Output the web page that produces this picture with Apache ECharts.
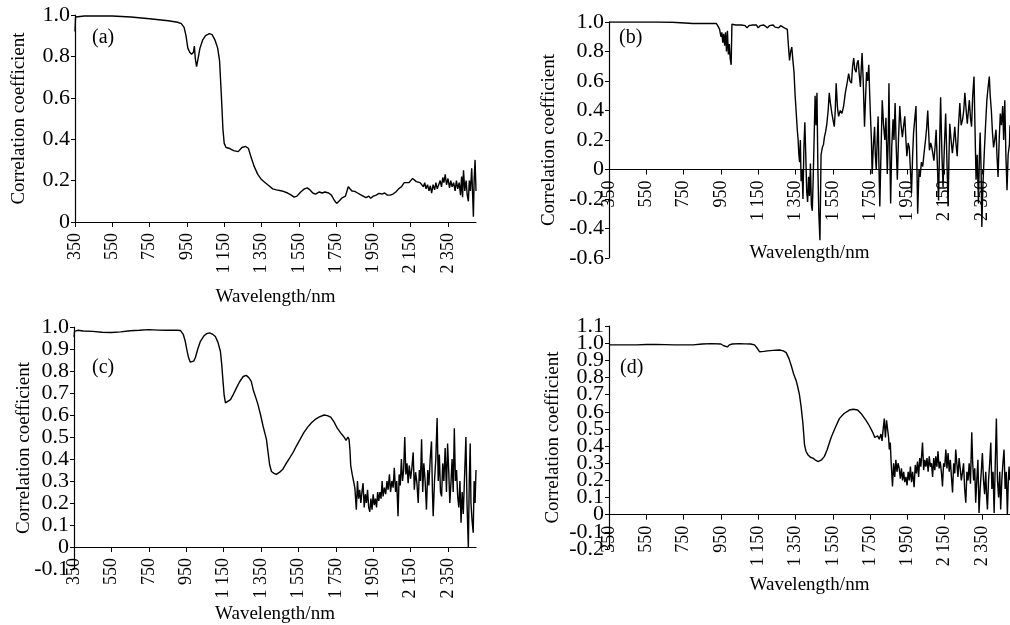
<!DOCTYPE html>
<html>
<head>
<meta charset="utf-8">
<script src="https://cdn.jsdelivr.net/npm/echarts@6/dist/echarts.min.js"></script>
<style>
html,body{margin:0;padding:0;background:#fff;}
#chart{width:1010px;height:625px;}
</style>
</head>
<body>
<div id="chart"></div>
<script>
// ---- Data (wavelength in nm, correlation coefficient) ----
const xTickValues = [350,550,750,950,1150,1350,1550,1750,1950,2150,2350];
const panelLabels = ['(a)','(b)','(c)','(d)'];
const xName = 'Wavelength/nm';
const yName = 'Correlation coefficient';

const wlA = [350,353,360,400,450,550,650,750,850,900,920,935,945,955,965,975,985,990,995,1002,1010,1020,1035,1050,1070,1085,1100,1115,1125,1132,1138,1143,1150,1160,1180,1200,1225,1245,1265,1280,1295,1310,1330,1350,1370,1390,1410,1430,1460,1490,1510,1525,1540,1560,1580,1595,1610,1625,1640,1660,1675,1690,1710,1725,1740,1753,1765,1780,1800,1815,1825,1835,1850,1865,1880,1895,1910,1925,1935,1950,1965,1980,1995,2010,2025,2040,2055,2070,2085,2100,2115,2125,2140,2150,2160,2170,2180,2190,2200,2210,2218,2225,2232,2240,2248,2255,2262,2270,2278,2285,2292,2300,2308,2315,2322,2328,2335,2342,2350,2358,2365,2372,2380,2388,2395,2402,2410,2417,2423,2428,2433,2440,2447,2453,2459,2464,2470,2477,2482,2486,2490,2495,2500];
const corrA = [0.92,0.99,0.995,0.995,0.996,0.995,0.99,0.982,0.972,0.965,0.958,0.94,0.9,0.84,0.82,0.81,0.82,0.85,0.79,0.75,0.79,0.84,0.88,0.9,0.91,0.905,0.88,0.84,0.78,0.66,0.55,0.45,0.38,0.36,0.355,0.345,0.34,0.36,0.365,0.355,0.31,0.27,0.23,0.205,0.19,0.175,0.16,0.155,0.15,0.14,0.13,0.12,0.125,0.145,0.16,0.165,0.155,0.14,0.135,0.145,0.14,0.145,0.14,0.13,0.105,0.09,0.1,0.115,0.125,0.17,0.172,0.15,0.148,0.14,0.132,0.125,0.118,0.125,0.115,0.125,0.13,0.138,0.135,0.14,0.13,0.13,0.135,0.145,0.16,0.17,0.19,0.195,0.19,0.2,0.21,0.205,0.195,0.2,0.19,0.185,0.17,0.19,0.16,0.18,0.15,0.175,0.14,0.18,0.155,0.19,0.16,0.18,0.2,0.17,0.215,0.19,0.23,0.18,0.21,0.165,0.2,0.17,0.19,0.15,0.2,0.16,0.19,0.13,0.22,0.12,0.25,0.15,0.2,0.13,0.1,0.2,0.15,0.26,0.13,0.025,0.2,0.3,0.15];

const wlB = [350,400,500,600,690,700,800,900,925,935,943,950,955,960,965,970,975,980,985,990,995,1000,1005,1009,1030,1060,1080,1090,1100,1110,1120,1130,1140,1150,1160,1170,1180,1190,1200,1210,1220,1230,1240,1250,1260,1270,1280,1290,1300,1306,1312,1318,1324,1330,1336,1342,1348,1354,1360,1364,1368,1372,1376,1380,1385,1390,1395,1400,1405,1410,1415,1420,1425,1430,1435,1440,1445,1450,1455,1460,1465,1470,1475,1481,1487,1494,1500,1505,1512,1518,1525,1531,1537,1545,1552,1558,1563,1568,1575,1581,1590,1599,1608,1617,1626,1635,1642,1650,1656,1662,1668,1675,1680,1686,1692,1698,1703,1707,1713,1720,1726,1731,1737,1743,1748,1752,1757,1761,1767,1774,1778,1783,1788,1793,1797,1802,1808,1815,1822,1829,1835,1842,1847,1851,1856,1860,1866,1873,1878,1884,1890,1896,1902,1909,1916,1923,1930,1936,1942,1947,1954,1960,1966,1972,1978,1983,1990,1996,2000,2005,2012,2018,2025,2032,2040,2047,2053,2059,2064,2068,2075,2081,2087,2092,2098,2104,2110,2117,2123,2128,2135,2141,2148,2155,2161,2168,2173,2177,2184,2191,2198,2204,2210,2217,2224,2231,2238,2246,2252,2258,2265,2271,2277,2282,2288,2294,2300,2307,2312,2318,2324,2331,2336,2340,2345,2349,2355,2362,2369,2376,2382,2389,2394,2400,2406,2412,2418,2425,2430,2436,2442,2448,2454,2461,2466,2472,2478,2484,2490,2497,2500];
const corrB = [1.0,1.0,1.0,1.0,0.998,0.995,0.99,0.99,0.99,0.97,0.95,0.9,0.93,0.86,0.92,0.84,0.93,0.8,0.94,0.78,0.85,0.75,0.71,0.985,0.98,0.98,0.975,0.96,0.975,0.965,0.98,0.97,0.98,0.96,0.975,0.965,0.98,0.97,0.96,0.975,0.97,0.98,0.965,0.97,0.96,0.975,0.97,0.96,0.96,0.95,0.84,0.74,0.8,0.83,0.74,0.66,0.5,0.38,0.26,0.2,0.1,0.05,0.2,-0.08,0.0,-0.2,0.15,0.32,0.1,-0.15,-0.22,-0.05,-0.18,0.04,-0.24,-0.28,-0.05,0.22,0.5,0.3,0.52,0.0,-0.3,-0.48,0.1,0.15,0.17,0.22,0.26,0.31,0.4,0.52,0.45,0.38,0.33,0.29,0.4,0.585,0.42,0.36,0.4,0.38,0.43,0.52,0.58,0.65,0.6,0.585,0.7,0.755,0.68,0.66,0.72,0.74,0.64,0.56,0.7,0.79,0.6,0.29,0.5,0.66,0.6,0.71,0.5,0.36,0.2,-0.03,0.15,0.29,0.1,0.0,0.2,0.36,0.05,-0.25,0.1,0.47,0.3,0.2,0.35,-0.03,0.2,0.585,0.1,-0.23,0.15,0.34,0.2,0.45,0.15,-0.07,0.2,0.43,0.3,0.22,0.3,0.36,0.2,0.09,0.18,0.15,0.0,-0.16,0.1,0.25,0.35,0.43,0.1,-0.3,0.0,-0.05,0.05,0.02,0.12,0.2,0.28,0.4,0.25,0.13,0.18,0.15,0.1,0.06,0.15,0.27,0.05,-0.21,0.2,0.49,0.1,-0.12,0.15,0.38,0.1,-0.25,0.1,0.31,0.2,0.11,0.2,0.29,0.18,0.09,0.3,0.45,0.3,0.34,0.4,0.52,0.4,0.31,0.4,0.47,0.35,0.29,0.5,0.63,0.3,-0.07,0.1,-0.23,0.1,0.25,0.0,-0.39,-0.1,0.11,0.3,0.47,0.55,0.63,0.5,0.4,0.25,0.15,0.2,0.27,0.1,-0.05,0.2,0.38,0.3,0.43,0.2,0.47,0.1,-0.14,0.1,0.17,0.3];

const wlC = [350,353,370,400,450,500,550,600,650,700,750,800,850,900,920,935,945,955,963,972,981,990,999,1012,1026,1045,1060,1075,1090,1106,1120,1133,1140,1147,1153,1160,1170,1187,1200,1217,1235,1255,1271,1285,1298,1310,1322,1334,1348,1361,1370,1379,1388,1396,1406,1420,1432,1450,1468,1485,1500,1522,1540,1560,1579,1600,1620,1640,1660,1687,1705,1723,1740,1758,1775,1794,1805,1815,1821,1826,1830,1838,1845,1852,1860,1866,1872,1878,1884,1890,1896,1902,1908,1914,1920,1926,1932,1938,1944,1950,1956,1962,1968,1974,1980,1986,1992,1998,2003,2010,2017,2024,2030,2037,2043,2050,2057,2063,2070,2076,2083,2089,2095,2101,2107,2113,2119,2125,2131,2137,2143,2150,2157,2164,2170,2177,2184,2191,2197,2203,2209,2215,2221,2228,2235,2242,2248,2255,2262,2267,2271,2278,2285,2292,2298,2304,2310,2316,2322,2328,2335,2342,2348,2354,2360,2366,2372,2378,2384,2390,2396,2402,2408,2414,2420,2426,2432,2438,2446,2452,2456,2459,2464,2469,2473,2479,2485,2490,2495,2500];
const corrC = [0.955,0.98,0.985,0.982,0.98,0.976,0.975,0.978,0.983,0.985,0.988,0.986,0.985,0.985,0.984,0.965,0.935,0.89,0.86,0.84,0.835,0.845,0.86,0.9,0.935,0.96,0.97,0.973,0.968,0.957,0.93,0.89,0.83,0.753,0.69,0.655,0.66,0.67,0.69,0.72,0.75,0.775,0.78,0.77,0.753,0.71,0.68,0.647,0.6,0.55,0.52,0.49,0.43,0.375,0.343,0.335,0.33,0.34,0.355,0.38,0.4,0.43,0.46,0.49,0.52,0.545,0.565,0.58,0.59,0.6,0.597,0.59,0.57,0.54,0.52,0.5,0.485,0.5,0.49,0.44,0.37,0.33,0.3,0.27,0.17,0.3,0.22,0.26,0.2,0.25,0.29,0.18,0.24,0.2,0.26,0.18,0.16,0.22,0.17,0.24,0.19,0.22,0.18,0.25,0.21,0.25,0.22,0.3,0.23,0.27,0.24,0.3,0.26,0.33,0.25,0.3,0.27,0.36,0.25,0.3,0.14,0.33,0.28,0.4,0.3,0.35,0.5,0.33,0.38,0.29,0.37,0.31,0.36,0.43,0.26,0.34,0.29,0.2,0.35,0.3,0.49,0.25,0.38,0.3,0.17,0.35,0.28,0.4,0.48,0.25,0.14,0.3,0.4,0.586,0.3,0.42,0.25,0.23,0.38,0.3,0.45,0.25,0.47,0.35,0.2,0.29,0.4,0.25,0.54,0.3,0.35,0.23,0.18,0.3,0.11,0.25,0.15,0.3,0.5,0.2,0.08,0.0,0.3,0.47,0.2,0.12,0.065,0.3,0.2,0.35];

const wlD = [350,400,500,550,600,700,800,850,900,950,965,975,985,995,1011,1050,1080,1110,1130,1145,1157,1180,1200,1230,1264,1285,1300,1315,1327,1340,1354,1363,1371,1380,1389,1394,1398,1406,1416,1430,1443,1455,1470,1480,1490,1505,1520,1541,1560,1585,1610,1639,1660,1683,1705,1728,1745,1764,1775,1790,1799,1808,1814,1820,1826,1832,1838,1844,1849,1853,1858,1863,1870,1876,1882,1888,1894,1900,1906,1912,1918,1924,1930,1936,1942,1948,1954,1960,1966,1972,1978,1986,1992,1998,2004,2010,2016,2022,2031,2037,2043,2049,2055,2061,2067,2073,2079,2085,2091,2097,2102,2108,2114,2120,2126,2132,2138,2144,2150,2156,2162,2168,2174,2180,2186,2192,2198,2204,2209,2215,2221,2227,2233,2239,2245,2251,2257,2263,2269,2275,2281,2288,2295,2300,2305,2311,2316,2322,2328,2334,2340,2346,2352,2358,2364,2370,2375,2379,2385,2391,2397,2403,2409,2415,2421,2427,2433,2439,2445,2450,2456,2462,2468,2474,2480,2486,2491,2495,2500];
const corrD = [0.99,0.99,0.99,0.992,0.993,0.99,0.99,0.995,0.997,0.995,0.985,0.975,0.978,0.99,0.995,0.997,0.996,0.995,0.99,0.97,0.95,0.952,0.955,0.958,0.96,0.955,0.945,0.91,0.87,0.82,0.78,0.74,0.7,0.63,0.54,0.47,0.41,0.37,0.35,0.335,0.33,0.32,0.31,0.305,0.32,0.34,0.38,0.45,0.5,0.56,0.59,0.61,0.615,0.61,0.585,0.55,0.52,0.48,0.45,0.46,0.44,0.47,0.43,0.5,0.56,0.45,0.55,0.54,0.45,0.38,0.42,0.3,0.165,0.3,0.22,0.32,0.25,0.3,0.27,0.21,0.27,0.2,0.25,0.19,0.22,0.17,0.25,0.2,0.28,0.19,0.25,0.16,0.29,0.24,0.31,0.22,0.33,0.28,0.42,0.26,0.32,0.28,0.33,0.25,0.34,0.28,0.3,0.22,0.33,0.26,0.34,0.28,0.37,0.27,0.31,0.25,0.165,0.3,0.28,0.38,0.27,0.36,0.25,0.32,0.22,0.13,0.3,0.24,0.38,0.3,0.22,0.33,0.27,0.2,0.245,0.3,0.15,0.07,0.25,0.2,0.3,0.18,0.48,0.3,0.2,0.27,0.07,0.2,0.32,0.01,0.15,0.25,0.36,0.2,0.12,0.25,0.1,0.03,0.2,0.3,0.42,0.15,0.25,0.01,0.3,0.56,0.2,0.1,0.25,0.03,0.2,0.3,0.38,0.15,0.25,0.0,0.2,0.28,0.2];

// y-axis ranges per panel
const yRanges = [
  {min:0, max:1.0, interval:0.2},
  {min:-0.6, max:1.0, interval:0.2},
  {min:-0.1, max:1.0, interval:0.1},
  {min:-0.2, max:1.1, interval:0.1}
];
const seriesWl = [wlA, wlB, wlC, wlD];
const seriesCorr = [corrA, corrB, corrC, corrD];

// ---- Layout (pixels) ----
const grids = [
  {left:75, top:15, width:401, height:207},
  {left:609, top:22, width:401, height:236},
  {left:74, top:327, width:402, height:242},
  {left:609, top:326, width:401, height:223}
];
const xNameGaps = [66, 74, 58, 61];
const yNameGaps = [46, 50, 40, 46];
const labelPos = [[92,28],[619,28],[92,358],[620,358]];

const FONT = 'Liberation Serif';

function xLabelFmt(v){
  const s = String(Math.round(v));
  if (s.length > 3) return s.slice(0, s.length-3) + ' ' + s.slice(-3);
  return s;
}
function yLabelFmt(v){
  if (Math.abs(v) < 1e-9) return '0';
  return (Math.round(v*10)/10).toFixed(1);
}
// place the x axis on the y = 0 line (pixel offset from the grid bottom)
function zeroOffset(i){
  const r = yRanges[i];
  return -grids[i].height * (0 - r.min) / (r.max - r.min);
}

const yLabelStyle = {fontFamily:FONT, fontSize:22, color:'#000'};

// main y axes: line, ticks and inner labels
const mainY = grids.map((g,i) => ({
  type:'value', gridIndex:i, position:'left',
  min:yRanges[i].min, max:yRanges[i].max, interval:yRanges[i].interval,
  axisLine:{show:true, onZero:false, lineStyle:{color:'#000', width:1.2}},
  axisTick:{show:true, inside:false, length:4, lineStyle:{color:'#000', width:1}},
  axisLabel:Object.assign({show:true, margin:5, formatter:yLabelFmt,
    showMinLabel:false, showMaxLabel:false, hideOverlap:false}, yLabelStyle),
  splitLine:{show:false},
  name:yName, nameLocation:'middle', nameRotate:90, nameGap:yNameGaps[i],
  nameTextStyle:{fontFamily:FONT, fontSize:19, color:'#000'}
}));
// companion y axes (same scale) carrying the end labels/ticks
const endY = grids.map((g,i) => {
  const ends = [yRanges[i].min, yRanges[i].max];
  return {
    type:'value', gridIndex:i, position:'left',
    min:yRanges[i].min, max:yRanges[i].max, interval:yRanges[i].interval,
    axisLine:{show:false},
    axisTick:{show:true, inside:false, length:4, customValues:ends, lineStyle:{color:'#000', width:1}},
    axisLabel:Object.assign({show:true, margin:5, formatter:yLabelFmt, customValues:ends,
      showMinLabel:true, showMaxLabel:true, hideOverlap:false}, yLabelStyle),
    splitLine:{show:false}
  };
});

const option = {
  animation:false,
  backgroundColor:'#fff',
  grid: grids.map(g => Object.assign({containLabel:false, outerBoundsMode:'none'}, g)),
  xAxis: grids.map((g,i) => ({
    type:'value', gridIndex:i, min:350, max:2500, interval:200,
    position:'bottom', offset:zeroOffset(i),
    axisLine:{show:true, onZero:false, lineStyle:{color:'#000', width:1.2}},
    axisTick:{show:true, inside:false, length:5, customValues:xTickValues, lineStyle:{color:'#000', width:1}},
    axisLabel:{show:true, rotate:90, margin:11, customValues:xTickValues, formatter:xLabelFmt,
      fontFamily:FONT, fontSize:18, color:'#000', hideOverlap:false},
    splitLine:{show:false},
    name:xName, nameLocation:'middle', nameGap:xNameGaps[i],
    nameTextStyle:{fontFamily:FONT, fontSize:19, color:'#000'}
  })),
  yAxis: mainY.concat(endY),
  series: seriesWl.map((wl,i) => ({
    type:'line', xAxisIndex:i, yAxisIndex:i,
    data: wl.map((w,k) => [w, seriesCorr[i][k]]),
    showSymbol:false, symbol:'none', sampling:null, smooth:false,
    lineStyle:{color:'#000', width:1.4},
    silent:true, clip:true
  })),
  graphic: panelLabels.map((t,i) => ({
    type:'text', left:labelPos[i][0], top:labelPos[i][1],
    style:{text:t, font:'20px "Liberation Serif"', fill:'#000'}
  }))
};

const chart = echarts.init(document.getElementById('chart'), null, {renderer:'canvas'});
chart.setOption(option);
</script>
</body>
</html>
